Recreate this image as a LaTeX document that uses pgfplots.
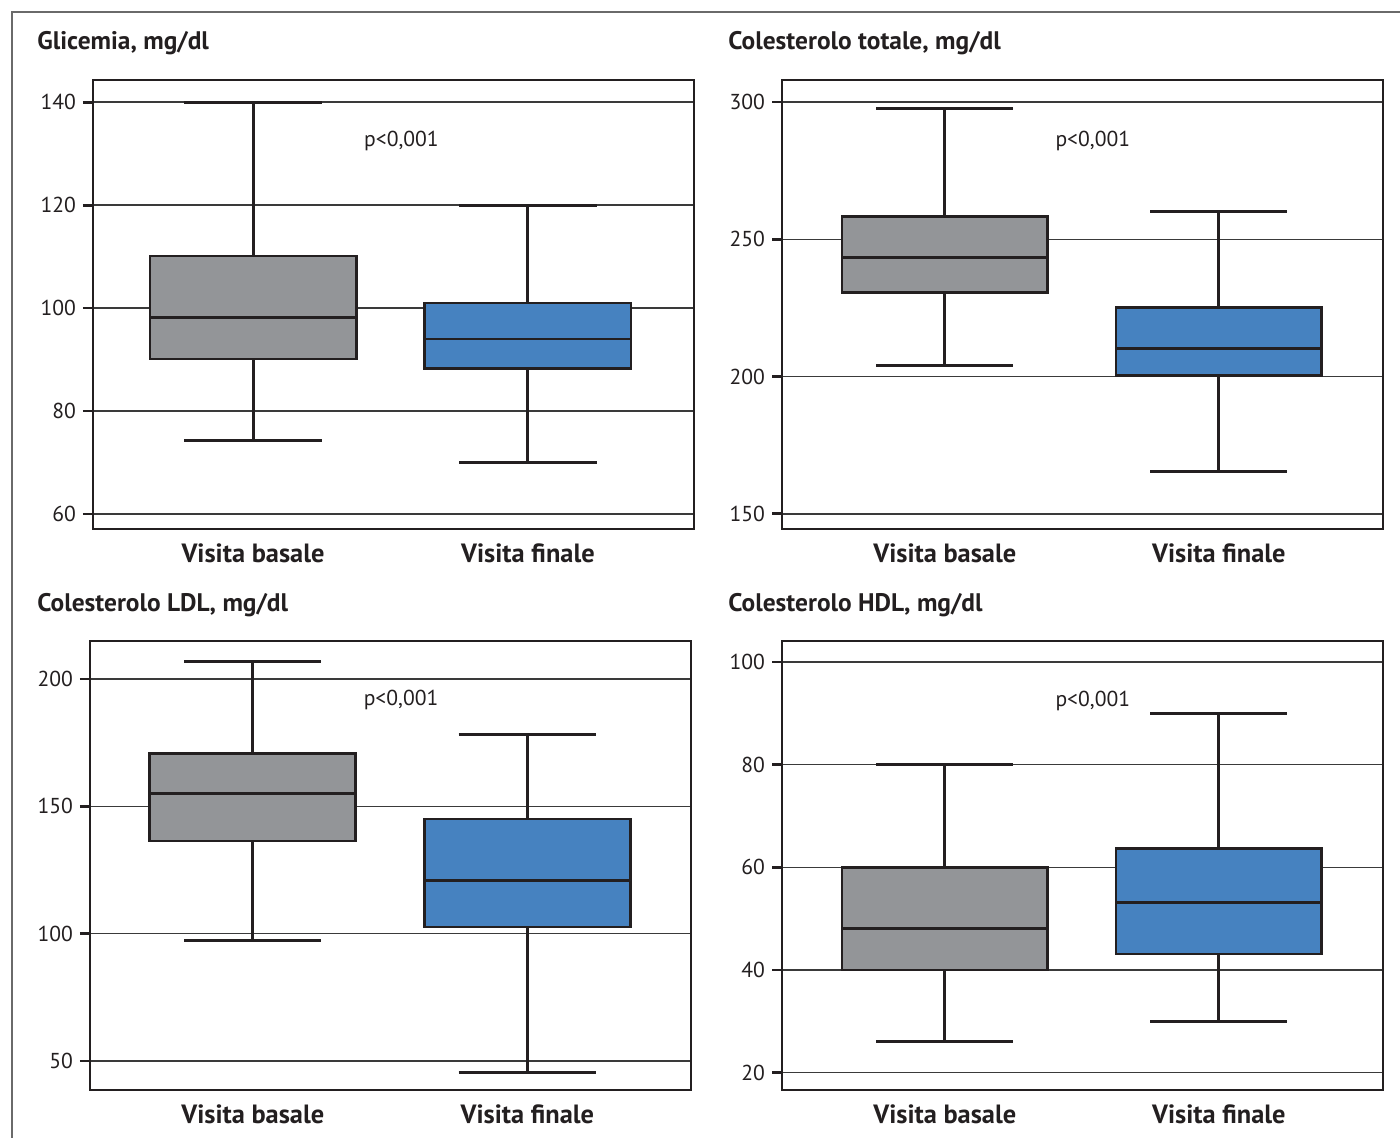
\documentclass[border=0pt]{standalone}
\usepackage{fontspec}
\setmainfont{PT Sans}
\usepackage{pgfplots}
\pgfplotsset{compat=1.18}
\usepgfplotslibrary{statistics}
\definecolor{boxgray}{HTML}{939598}
\definecolor{boxblue}{HTML}{4682C0}
\definecolor{dark}{HTML}{231F20}
\definecolor{gridc}{HTML}{3A3A3A}
\definecolor{framec}{HTML}{6A6A6A}
\pgfplotsset{
  mybox/.style={
    width=300.5pt, height=224.5pt, scale only axis, anchor=south west,
    axis line style={line width=1.4pt, color=dark},
    ymajorgrids, grid style={line width=0.65pt, color=gridc},
    ytick pos=left, tick align=outside, major tick length=5pt,
    ytick style={line width=1.4pt, color=dark},
    xtick={0,1}, xticklabels={Visita basale, Visita finale},
    xtick style={draw=none},
    xticklabel style={font=\bfseries\fontsize{13.2}{14}\selectfont, text=dark, yshift=1pt},
    yticklabel style={font=\fontsize{10.8}{11}\selectfont, text=dark},
    /pgf/number format/assume math mode=true,
    boxplot/draw direction=y,
    boxplot/every box/.style={line width=1.4pt},
    boxplot/every whisker/.style={line width=1.5pt},
    boxplot/every median/.style={line width=1.4pt},
    clip=false,
  },
  bx/.style={fill=#1, draw=dark, line width=1.4pt},
}
\newcommand{\pval}[2]{\node[font=\fontsize{10.8}{11}\selectfont, text=dark] at (axis cs:#1,#2) {p<0,001};}
\begin{document}
\begin{tikzpicture}
\useasboundingbox (0,0) rectangle (700pt,-569pt);
\draw[line width=0.7pt, color=framec] (6pt,-569pt) -- (6pt,-6pt) -- (700pt,-6pt);
\tikzset{ttl/.style={anchor=base west, inner sep=0pt, font=\bfseries\fontsize{12.7}{13}\selectfont, text=dark}}
\node[ttl] at (18.5pt,-25pt) {Glicemia, mg/dl};
\node[ttl] at (364pt,-25pt) {Colesterolo totale, mg/dl};
\node[ttl] at (18.5pt,-305.5pt) {Colesterolo LDL, mg/dl};
\node[ttl] at (364pt,-305.5pt) {Colesterolo HDL, mg/dl};

% Panel 1
\begin{axis}[mybox, at={(46.5pt,-264.5pt)}, xmin=-0.582, xmax=1.604, ymin=57.1, ymax=144.3, ytick={60,80,100,120,140}]
\addplot[bx=boxgray, boxplot prepared={lower whisker=74.2, lower quartile=90.1, median=98.1, upper quartile=110.1, upper whisker=140, draw position=0, box extend=0.75, whisker extend=0.5}] coordinates {};
\addplot[bx=boxblue, boxplot prepared={lower whisker=70.1, lower quartile=88.2, median=94, upper quartile=101, upper whisker=120, draw position=1, box extend=0.75, whisker extend=0.5}] coordinates {};
\pval{0.54}{132.4}
\end{axis}

% Panel 2
\begin{axis}[mybox, at={(391pt,-264.5pt)}, xmin=-0.594, xmax=1.599, ymin=144.5, ymax=308, ytick={150,200,250,300}]
\addplot[bx=boxgray, boxplot prepared={lower whisker=204, lower quartile=230.5, median=243.3, upper quartile=258.2, upper whisker=297.8, draw position=0, box extend=0.75, whisker extend=0.5}] coordinates {};
\addplot[bx=boxblue, boxplot prepared={lower whisker=165.5, lower quartile=200.4, median=210.2, upper quartile=225.1, upper whisker=260, draw position=1, box extend=0.75, whisker extend=0.5}] coordinates {};
\pval{0.54}{285.8}
\end{axis}

% Panel 3
\begin{axis}[mybox, at={(45pt,-545pt)}, xmin=-0.593, xmax=1.596, ymin=38.6, ymax=214.9, ytick={50,100,150,200}]
\addplot[bx=boxgray, boxplot prepared={lower whisker=97.5, lower quartile=136.4, median=155, upper quartile=170.6, upper whisker=206.7, draw position=0, box extend=0.75, whisker extend=0.5}] coordinates {};
\addplot[bx=boxblue, boxplot prepared={lower whisker=45.3, lower quartile=102.6, median=121, upper quartile=145, upper whisker=178, draw position=1, box extend=0.75, whisker extend=0.5}] coordinates {};
\pval{0.54}{191.8}
\end{axis}

% Panel 4
\begin{axis}[mybox, at={(391pt,-545pt)}, xmin=-0.594, xmax=1.599, ymin=16.6, ymax=104.1, ytick={20,40,60,80,100}]
\addplot[bx=boxgray, boxplot prepared={lower whisker=26, lower quartile=40, median=48.1, upper quartile=60, upper whisker=80, draw position=0, box extend=0.75, whisker extend=0.5}] coordinates {};
\addplot[bx=boxblue, boxplot prepared={lower whisker=30, lower quartile=43.1, median=53.1, upper quartile=63.7, upper whisker=90, draw position=1, box extend=0.75, whisker extend=0.5}] coordinates {};
\pval{0.54}{92.4}
\end{axis}
\end{tikzpicture}
\end{document}
